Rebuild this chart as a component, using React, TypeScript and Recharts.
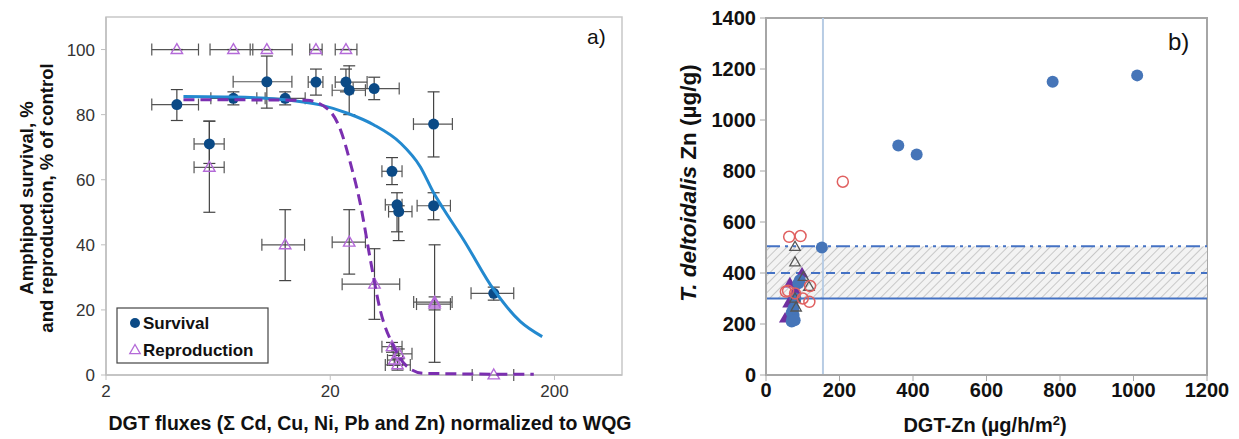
import React from 'react';
import { ScatterChart, Scatter, XAxis, YAxis, ErrorBar, ReferenceLine, ReferenceArea } from 'recharts';

// ---- panel a: amphipod survival / reproduction vs DGT flux (log x) ----
const survX = [4.14, 5.78, 7.4, 10.43, 12.59, 17.27, 23.5, 24.3, 31.4, 57.8, 37.7, 39.7, 40.4, 57.8, 107.2];
const survY = [83.1, 71, 85, 90.1, 85, 90, 90, 87.5, 88, 77.1, 62.6, 52.3, 50.2, 52, 25.1];
const survXLo = [3.2, 4.94, 5.87, 7.38, 10.25, 15.95, 21.05, 20.4, 25.3, 47.0, 34.0, 35.2, 36.4, 48.8, 84.9];
const survXHi = [5.17, 6.73, 9.41, 13.49, 15.46, 18.55, 29.2, 28.7, 40.6, 70.1, 41.8, 41.8, 46.3, 68.7, 131.6];
const survYLo = [78.2, 65, 83, 82, 83, 86, 87, 80, 84.6, 67, 58.5, 44, 41.3, 47.7, 23];
const survYHi = [87.7, 78, 87, 98, 87, 94, 94, 95, 91.5, 87, 66.8, 56, 52, 56, 27];

const reprX = [4.14, 7.4, 10.43, 17.27, 23.5, 5.78, 12.59, 24.3, 31.5, 58.4, 58.4, 37.7, 40.4, 38.6, 39.9, 107.2];
const reprY = [100, 100, 100, 100, 100, 63.8, 40, 40.8, 27.9, 22.4, 21.8, 8.7, 6.5, 4.6, 3.1, 0];
const reprXLo = [3.2, 5.82, 8.79, 16.2, 21.05, 4.94, 9.91, 20.4, 22.6, 47.1, 48.5, 34.0, 38.2, 36.0, 35.2, 85.9];
const reprXHi = [5.17, 9.03, 13.53, 18.4, 26.3, 6.73, 15.36, 28.7, 40.8, 69.9, 68.7, 41.8, 46.3, 42, 45.5, 131.6];
const reprYLo = [100, 100, 100, 100, 100, 50, 29, 31, 17.1, 3.9, 20, 7, 5, 3, 1.5, 0];
const reprYHi = [100, 100, 100, 100, 100, 78, 50.8, 50.8, 38.8, 40, 24, 10, 8, 6, 5, 0];

// fitted curves
const survFitX = [4.43, 7.4, 10.43, 12.59, 18.04, 23.7, 31.2, 41.1, 50.4, 57.8, 64, 78.7, 107.2, 141, 176.3];
const survFitY = [85.6, 85.4, 85, 84.6, 83, 80.5, 76.9, 71.3, 64, 56, 51, 41.5, 26.2, 16.4, 11.8];
const reprFitX = [4.43, 15.74, 19.65, 22.2, 24.6, 27.2, 30.2, 33.4, 38.4, 44.0, 52.2, 161.7];
const reprFitY = [84.6, 84.4, 81.5, 75.4, 65.1, 52.8, 35.4, 20, 8.7, 2.6, 0.5, 0.2];

const fluxTicks = [2, 20, 200];
const pctTicks = [0, 20, 40, 60, 80, 100];

// ---- panel b: tissue Zn vs DGT-Zn ----
const znBlueX = [1010, 780, 360, 410, 152, 70, 72, 75, 70, 88, 92, 80, 75, 78];
const znBlueY = [1175, 1150, 900, 865, 500, 210, 222, 235, 245, 360, 372, 300, 262, 215];
const znRedX = [209, 63, 94, 120, 54, 79, 118, 60, 100];
const znRedY = [758, 542, 545, 349, 327, 320, 287, 330, 300];
const znOpenTriX = [79, 79, 102, 117, 79, 82];
const znOpenTriY = [503, 442, 385, 346, 300, 265];
const znPurpleX = [52, 65, 74, 98, 70, 61, 68, 80];
const znPurpleY = [222, 360, 307, 399, 255, 281, 240, 330];

const znLow = 300;
const znMid = 400;
const znHigh = 505;
const dgtBackground = 155;

const dgtTicks = [0, 200, 400, 600, 800, 1000, 1200];
const tissueTicks = [0, 200, 400, 600, 800, 1000, 1200, 1400];

const FONT = '"Liberation Sans", Arial, sans-serif';

const zip = (xs: number[], ys: number[]) => xs.map((x, i) => ({ x, y: ys[i] }));

const survData = survX.map((x, i) => ({
  x,
  y: survY[i],
  ex: [x - survXLo[i], survXHi[i] - x],
  ey: [survY[i] - survYLo[i], survYHi[i] - survY[i]],
}));
const reprData = reprX.map((x, i) => ({
  x,
  y: reprY[i],
  ex: [x - reprXLo[i], reprXHi[i] - x],
  ey: [reprY[i] - reprYLo[i], reprYHi[i] - reprY[i]],
}));

const tri = (cx: number, cy: number, s: number) =>
  `${cx},${cy - s} ${cx + s * 0.95},${cy + s * 0.65} ${cx - s * 0.95},${cy + s * 0.65}`;

const NavyDot = (p: any) => <circle cx={p.cx} cy={p.cy} r={5.5} fill="#0b4a86" />;
const OpenPurpleTri = (p: any) => (
  <polygon points={tri(p.cx, p.cy, 6)} fill="none" stroke="#b46ad8" strokeWidth={1.4} />
);
const Nothing = () => <g />;

const BlueDot = (p: any) => <circle cx={p.cx} cy={p.cy} r={6} fill="#4675b8" />;
const RedRing = (p: any) => <circle cx={p.cx} cy={p.cy} r={5.5} fill="none" stroke="#e06060" strokeWidth={1.5} />;
const OpenTri = (p: any) => (
  <polygon points={tri(p.cx, p.cy, 5.5)} fill="none" stroke="#555" strokeWidth={1.3} />
);
const PurpleTri = (p: any) => <polygon points={tri(p.cx, p.cy, 6.5)} fill="#7030a0" />;

const greyAxis = { stroke: '#bfbfbf', strokeWidth: 1.5 };

const App: React.FC = () => {
  return (
    <div style={{ position: 'absolute', left: 0, top: 0, width: 1239, height: 439, background: '#fff' }}>
      {/* panel a */}
      <div style={{ position: 'absolute', left: 0, top: 0 }}>
        <ScatterChart width={660} height={439} margin={{ top: 17, right: 38, left: 0, bottom: 0 }}>
          <XAxis
            type="number"
            dataKey="x"
            scale="log"
            domain={[2, 400]}
            ticks={fluxTicks}
            allowDataOverflow
            height={64}
            axisLine={greyAxis}
            tickLine={{ stroke: '#bfbfbf' }}
            tickSize={5}
            tickMargin={5}
            tick={{ fill: '#333', fontSize: 17, fontFamily: FONT }}
          />
          <YAxis
            type="number"
            dataKey="y"
            domain={[0, 110]}
            ticks={pctTicks}
            width={106}
            axisLine={greyAxis}
            tickLine={{ stroke: '#bfbfbf' }}
            tickSize={5}
            tickMargin={6}
            tick={{ fill: '#333', fontSize: 17, fontFamily: FONT }}
          />
          <ReferenceArea x1={2} x2={400} y1={0} y2={110} fill="none" stroke="#c8c8c8" strokeWidth={1.5} />
          <Scatter data={reprData} shape={OpenPurpleTri} isAnimationActive={false}>
            <ErrorBar dataKey="ex" direction="x" stroke="#555" strokeWidth={1.2} width={6} />
            <ErrorBar dataKey="ey" direction="y" stroke="#444" strokeWidth={1.2} width={6} />
          </Scatter>
          <Scatter data={survData} shape={NavyDot} isAnimationActive={false}>
            <ErrorBar dataKey="ex" direction="x" stroke="#555" strokeWidth={1.2} width={6} />
            <ErrorBar dataKey="ey" direction="y" stroke="#444" strokeWidth={1.2} width={6} />
          </Scatter>
          <Scatter
            data={zip(survFitX, survFitY)}
            shape={Nothing}
            line={{ stroke: '#2389cf', strokeWidth: 3 }}
            lineJointType="monotoneX"
            isAnimationActive={false}
          />
          <Scatter
            data={zip(reprFitX, reprFitY)}
            shape={Nothing}
            line={{ stroke: '#7b2fb0', strokeWidth: 3, strokeDasharray: '11 6' }}
            lineJointType="monotoneX"
            isAnimationActive={false}
          />
          {/* legend */}
          <g fontFamily={FONT} fontWeight="bold" fontSize={17} fill="#111">
            <rect x={117} y={308} width={151} height={55} fill="#fff" stroke="#444" strokeWidth={1.2} />
            <circle cx={135} cy={323} r={5} fill="#0b4a86" />
            <text x={143} y={329}>Survival</text>
            <polygon points={tri(135, 350, 5.5)} fill="none" stroke="#b46ad8" strokeWidth={1.3} />
            <text x={143} y={356}>Reproduction</text>
          </g>
          <text x={587} y={44} fontFamily={FONT} fontSize={21} fill="#111">a)</text>
          <text
            transform="translate(33,198) rotate(-90)"
            textAnchor="middle"
            fontFamily={FONT}
            fontWeight="bold"
            fontSize={18.5}
            fill="#111"
          >
            <tspan x={0} dy={0}>Amphipod survival, %</tspan>
            <tspan x={0} dy={20}>and reproduction, % of control</tspan>
          </text>
          <text x={370} y={430} textAnchor="middle" fontFamily={FONT} fontWeight="bold" fontSize={19.5} fill="#111">
            DGT fluxes (Σ Cd, Cu, Ni, Pb and Zn) normalized to WQG
          </text>
        </ScatterChart>
      </div>

      {/* panel b */}
      <div style={{ position: 'absolute', left: 660, top: 0 }}>
        <ScatterChart width={579} height={439} margin={{ top: 18, right: 32, left: 0, bottom: 0 }}>
          <defs>
            <pattern id="hatch" width="6" height="6" patternUnits="userSpaceOnUse" patternTransform="rotate(45)">
              <rect width="6" height="6" fill="#f3f3f3" />
              <line x1="0" y1="0" x2="0" y2="6" stroke="#bdbdbd" strokeWidth="1.6" />
            </pattern>
          </defs>
          <XAxis
            type="number"
            dataKey="x"
            domain={[0, 1200]}
            ticks={dgtTicks}
            height={64}
            axisLine={{ stroke: '#a6a6a6', strokeWidth: 2 }}
            tickLine={{ stroke: '#a6a6a6' }}
            tickSize={6}
            tick={{ fill: '#111', fontSize: 20, fontWeight: 'bold', fontFamily: FONT }}
          />
          <YAxis
            type="number"
            dataKey="y"
            domain={[0, 1400]}
            ticks={tissueTicks}
            width={106}
            axisLine={{ stroke: '#a6a6a6', strokeWidth: 2 }}
            tickLine={{ stroke: '#a6a6a6' }}
            tickSize={6}
            tickMargin={4}
            tick={{ fill: '#111', fontSize: 20, fontWeight: 'bold', fontFamily: FONT }}
          />
          <ReferenceArea x1={0} x2={1200} y1={0} y2={1400} fill="none" stroke="#a6a6a6" strokeWidth={2} />
          <ReferenceArea x1={0} x2={1200} y1={znLow} y2={znHigh} fill="url(#hatch)" fillOpacity={1} />
          <ReferenceLine x={dgtBackground} stroke="#b8cce4" strokeWidth={2} />
          <ReferenceLine y={znHigh} stroke="#4472c4" strokeWidth={2} strokeDasharray="14 5 3 5 3 5" />
          <ReferenceLine y={znMid} stroke="#4472c4" strokeWidth={2} strokeDasharray="9 6" />
          <ReferenceLine y={znLow} stroke="#4472c4" strokeWidth={2} />
          <Scatter data={zip(znPurpleX, znPurpleY)} shape={PurpleTri} isAnimationActive={false} />
          <Scatter data={zip(znBlueX, znBlueY)} shape={BlueDot} isAnimationActive={false} />
          <Scatter data={zip(znOpenTriX, znOpenTriY)} shape={OpenTri} isAnimationActive={false} />
          <Scatter data={zip(znRedX, znRedY)} shape={RedRing} isAnimationActive={false} />
          <text x={508} y={50} fontFamily={FONT} fontSize={24} fill="#111">b)</text>
          <text
            transform="translate(36,183) rotate(-90)"
            textAnchor="middle"
            fontFamily={FONT}
            fontWeight="bold"
            fontSize={22.5}
            fill="#111"
          >
            <tspan fontStyle="italic">T. deltoidalis</tspan> Zn (µg/g)
          </text>
          <text x={325} y={432} textAnchor="middle" fontFamily={FONT} fontWeight="bold" fontSize={20} fill="#111">
            DGT-Zn (µg/h/m<tspan dy={-7} fontSize={13}>2</tspan>
            <tspan dy={7}>)</tspan>
          </text>
        </ScatterChart>
      </div>
    </div>
  );
};

export default App;
